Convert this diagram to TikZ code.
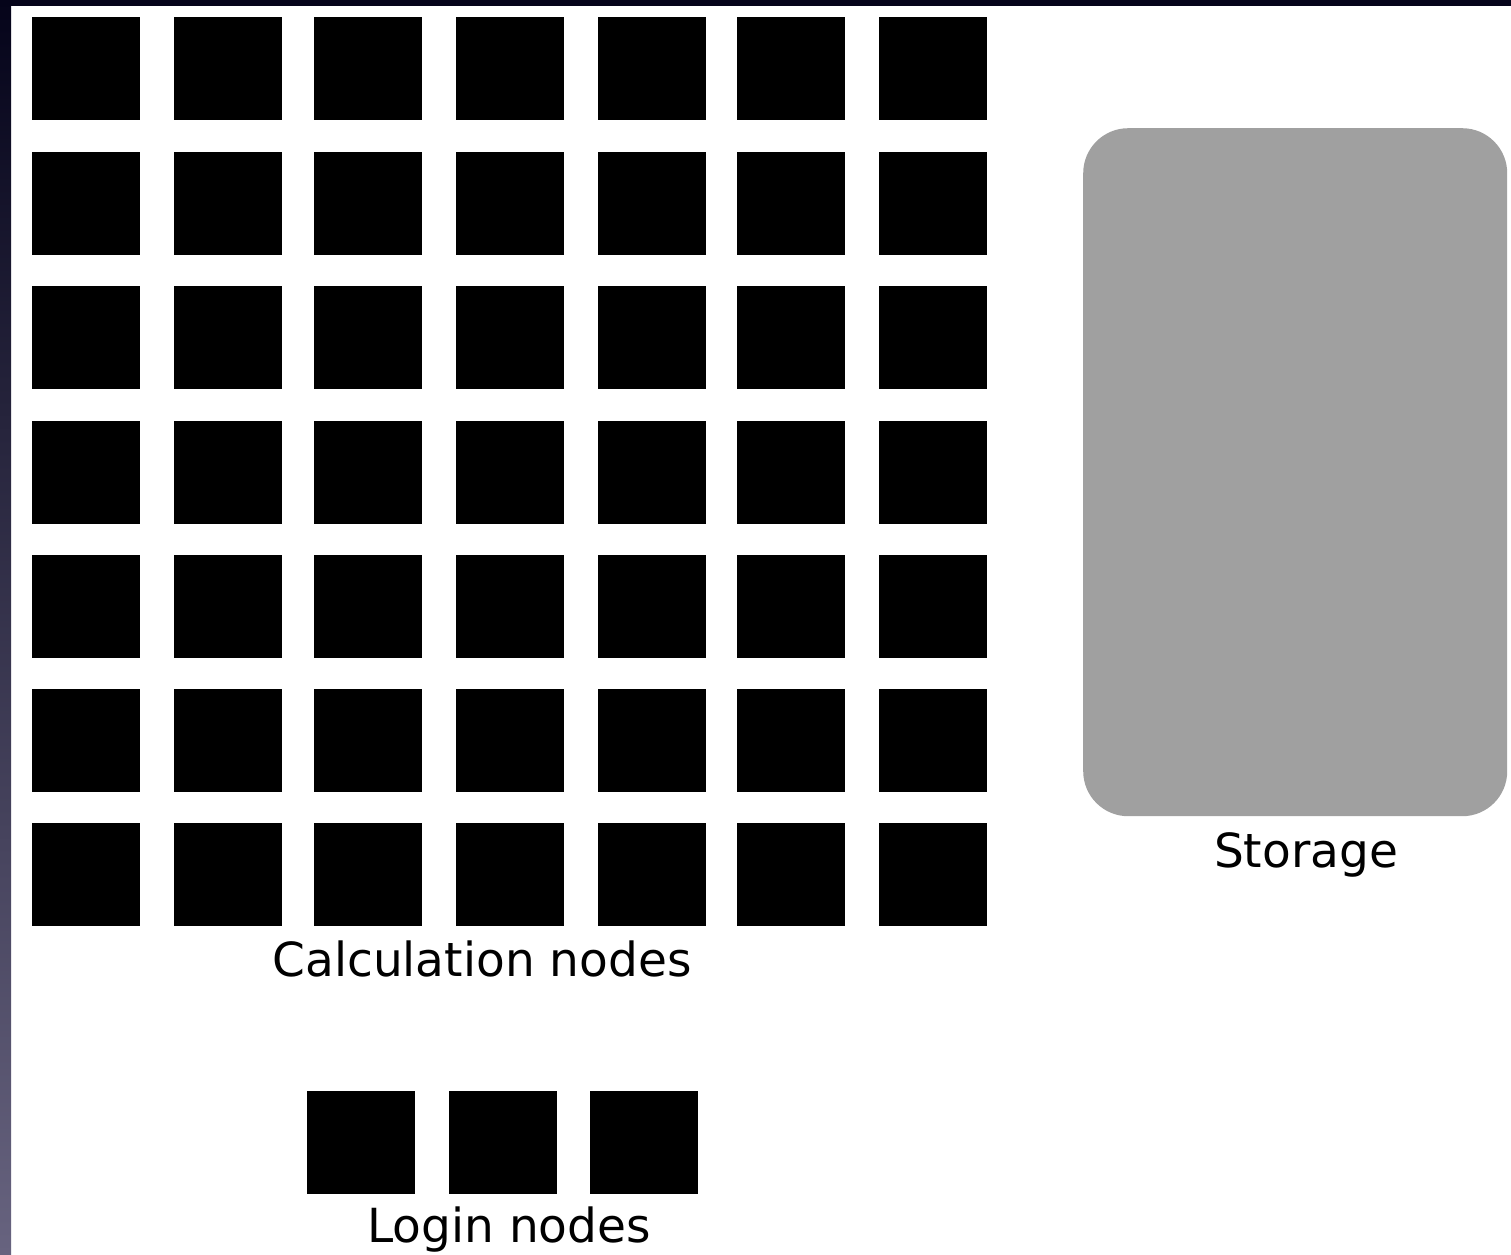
\documentclass[tikz,border=0pt]{standalone}
\usepackage{fontspec}
\setmainfont{DejaVu Sans}
\definecolor{frametop}{HTML}{05041A}
\definecolor{framebot}{HTML}{67637F}
\definecolor{storegray}{HTML}{A0A0A0}
\begin{document}
\begin{tikzpicture}[x=1pt,y=-1pt,
  cnode/.style={fill=black,draw=none,minimum width=108pt,minimum height=103pt,inner sep=0pt,anchor=north west},
  lbl/.style={font=\fontsize{47}{51}\selectfont,anchor=base,inner sep=0pt}]
\useasboundingbox (0,0) rectangle (1511,1254);
\fill[white] (0,0) rectangle (1511,1254);
% frame strips
\shade[top color=frametop,bottom color=framebot] (0,0) rectangle (11,1254);
\fill[frametop] (0,0) rectangle (1511,6);
% calculation nodes
\foreach \c/\x in {1/32,2/174,3/314,4/456,5/598,6/737,7/879}{
  \foreach \r/\y in {1/17,2/152,3/286,4/421,5/555,6/689,7/823}{
    \node[cnode] (c\r\c) at (\x,\y) {};
  }
}
\node[lbl] (calc) at (482,976) {Calculation nodes};
% login nodes
\node[cnode] (l1) at (307,1091) {};
\node[cnode] (l2) at (449,1091) {};
\node[cnode] (l3) at (590,1091) {};
\node[lbl] (login) at (509,1242) {Login nodes};
% storage
\node[fill=storegray,draw=none,rounded corners=45pt,minimum width=424pt,minimum height=688pt,inner sep=0pt,anchor=north west] (store) at (1083,128) {};
\node[lbl] (storelbl) at (1306,867) {Storage};
\end{tikzpicture}
\end{document}
